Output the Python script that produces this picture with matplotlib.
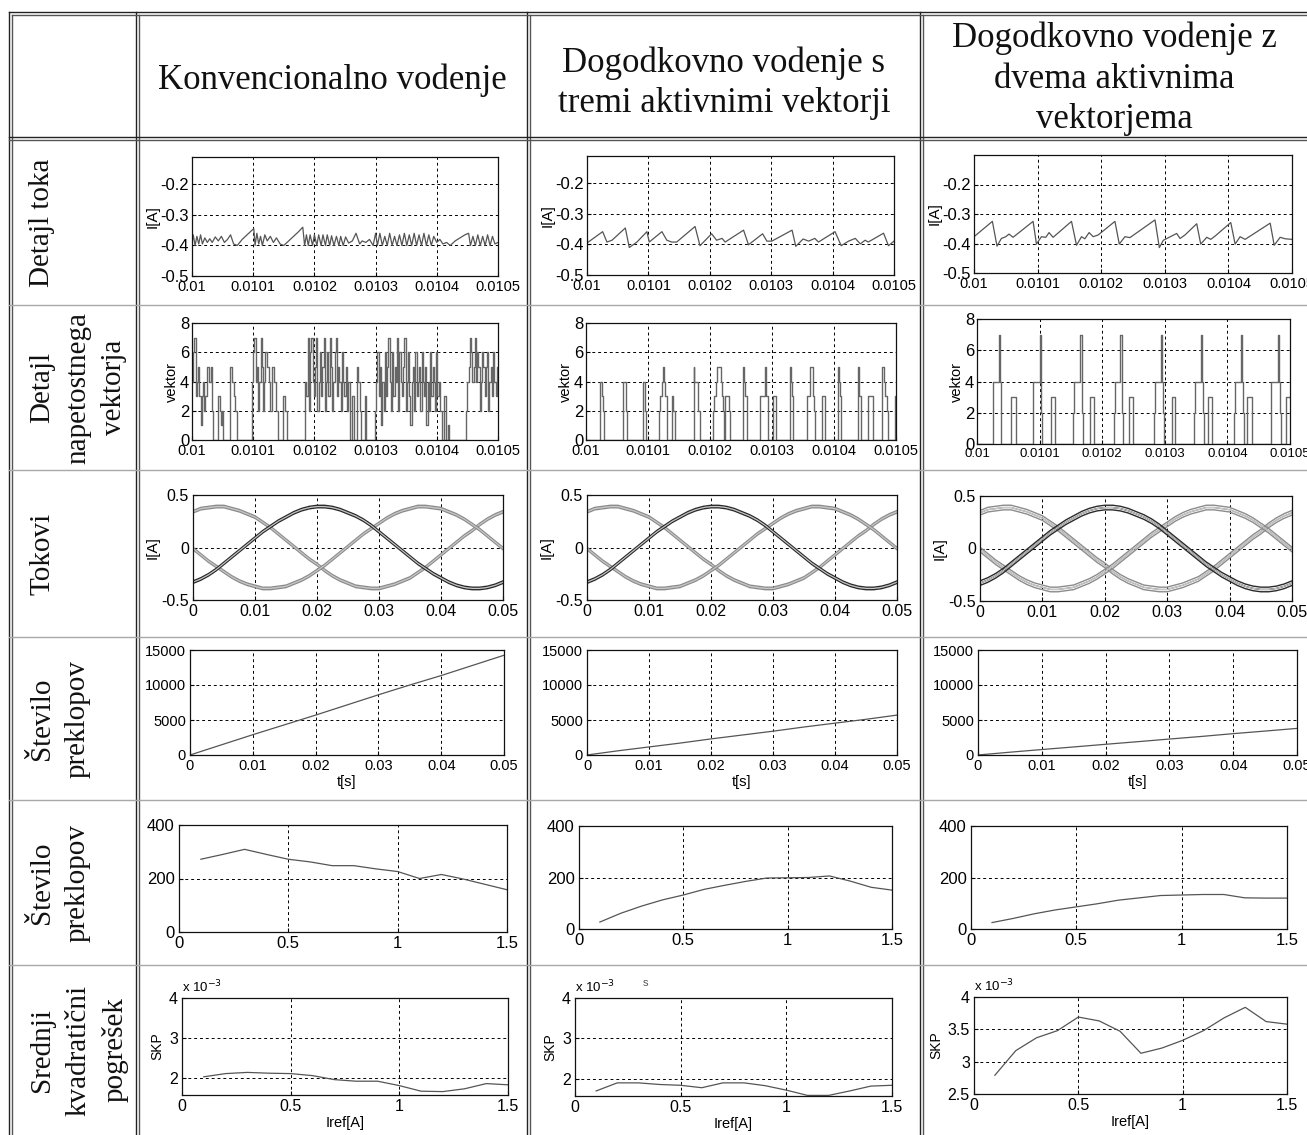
import matplotlib
matplotlib.use('Agg')
import matplotlib.pyplot as plt
import numpy as np

W, H = 1307, 1135

col_titles = ['Konvencionalno vodenje',
              'Dogodkovno vodenje s\ntremi aktivnimi vektorji',
              'Dogodkovno vodenje z\ndvema aktivnima\nvektorjema']
row_titles = ['Detajl toka', 'Detajl\nnapetostnega\nvektorja', 'Tokovi',
              'Število\npreklopov', 'Število\npreklopov',
              'Srednji\nkvadratični\npogrešek']

# --- detajl toka: (time in us after 0.01 s, current in A)
det1 = [(0, -0.395), (2, -0.365), (5, -0.40), (8, -0.37), (11, -0.395), (14, -0.365),
        (17, -0.395), (21, -0.375), (25, -0.39), (29, -0.378), (33, -0.39), (38, -0.372),
        (43, -0.385), (48, -0.37), (53, -0.39), (58, -0.38), (63, -0.365), (68, -0.395),
        (74, -0.40), (82, -0.38), (90, -0.365), (98, -0.35), (101, -0.345), (103, -0.40),
        (106, -0.36), (109, -0.395), (112, -0.37), (115, -0.40), (119, -0.365), (123, -0.385),
        (128, -0.37), (133, -0.39), (138, -0.375), (144, -0.395), (150, -0.40), (158, -0.385),
        (166, -0.37), (174, -0.355), (181, -0.34), (184, -0.40), (187, -0.365), (190, -0.40),
        (193, -0.365), (197, -0.40), (200, -0.365), (204, -0.40), (207, -0.365), (211, -0.40),
        (214, -0.365), (218, -0.40), (221, -0.365), (225, -0.40), (228, -0.368), (232, -0.40),
        (236, -0.37), (240, -0.40), (243, -0.37), (247, -0.40), (251, -0.372), (256, -0.392),
        (262, -0.385), (268, -0.36), (274, -0.395), (278, -0.385), (284, -0.39), (290, -0.38),
        (296, -0.40), (300, -0.36), (303, -0.40), (307, -0.36), (311, -0.40), (315, -0.37),
        (319, -0.40), (323, -0.36), (327, -0.40), (331, -0.37), (335, -0.40), (339, -0.365),
        (343, -0.40), (347, -0.36), (351, -0.40), (355, -0.365), (359, -0.40), (363, -0.36),
        (367, -0.40), (371, -0.365), (375, -0.40), (379, -0.36), (383, -0.40), (387, -0.365),
        (391, -0.40), (395, -0.37), (400, -0.39), (405, -0.38), (410, -0.395), (416, -0.39),
        (422, -0.40), (430, -0.385), (438, -0.375), (446, -0.365), (452, -0.36), (455, -0.40),
        (459, -0.37), (463, -0.40), (467, -0.365), (471, -0.40), (475, -0.37), (479, -0.40),
        (483, -0.365), (487, -0.40), (491, -0.37), (495, -0.395), (500, -0.39)]
det2 = [(0, -0.395), (25.5, -0.358), (32.5, -0.392), (40.7, -0.386), (62.4, -0.346),
        (68.9, -0.41), (81.3, -0.392), (97.6, -0.358), (101.4, -0.392), (122, -0.358),
        (130, -0.386), (138, -0.392), (146, -0.392), (176, -0.341), (184, -0.404),
        (203, -0.365), (211, -0.386), (220, -0.38), (225, -0.392), (255, -0.353),
        (263, -0.401), (286, -0.365), (293, -0.389), (301, -0.389), (334, -0.353),
        (340, -0.406), (352, -0.382), (361, -0.389), (371, -0.38), (377, -0.392),
        (404, -0.358), (414, -0.404), (426, -0.389), (437, -0.38), (445, -0.398),
        (453, -0.386), (458, -0.392), (483, -0.363), (491, -0.404), (500, -0.389)]
det3 = [(0, -0.377), (28.9, -0.325), (36.2, -0.409), (43, -0.383), (49.9, -0.377),
        (55.1, -0.368), (61.4, -0.379), (92.9, -0.325), (98.2, -0.402), (106, -0.377),
        (112.9, -0.379), (118, -0.363), (124.4, -0.379), (153.3, -0.325), (161.2, -0.406),
        (169, -0.377), (174.3, -0.384), (181, -0.363), (187.4, -0.377), (195.3, -0.371),
        (221.6, -0.325), (228.4, -0.402), (237.3, -0.377), (245.2, -0.380), (284.6, -0.320),
        (291.4, -0.414), (297.7, -0.389), (318.7, -0.366), (324, -0.383), (331.8, -0.371),
        (350.2, -0.333), (356.5, -0.402), (366, -0.379), (372.2, -0.386), (379, -0.375),
        (403.7, -0.329), (410.6, -0.402), (418.4, -0.377), (426.3, -0.386), (465.7, -0.331),
        (472, -0.406), (481.4, -0.379), (489.3, -0.384), (500, -0.386)]

# --- detajl napetostnega vektorja: (time in us after 0.01 s, vector number)
vec1 = [(0, 4), (2, 6), (4, 7), (6, 3), (8, 4), (10, 5), (12, 3), (14, 1), (16, 3), (18, 4),
        (20, 2), (22, 3), (25, 5), (28, 4), (31, 5), (33, 2), (35, 0), (42, 3), (45, 2),
        (47, 1), (49, 2), (50, 0), (62, 5), (65, 4), (68, 3), (70, 2), (73, 0), (98, 4),
        (100, 6), (102, 7), (104, 4), (106, 5), (108, 2), (110, 4), (112, 7), (114, 5),
        (116, 2), (118, 4), (120, 6), (122, 5), (125, 4), (128, 2), (131, 5), (134, 4),
        (137, 2), (141, 0), (149, 3), (152, 2), (155, 0), (185, 4), (187, 3), (189, 7),
        (191, 2), (193, 6), (195, 7), (197, 4), (199, 3), (201, 5), (203, 7), (205, 2),
        (207, 4), (209, 6), (211, 3), (213, 5), (215, 7), (217, 2), (219, 4), (221, 6),
        (223, 3), (225, 7), (227, 5), (229, 2), (231, 4), (233, 6), (235, 7), (237, 3),
        (239, 5), (241, 4), (243, 2), (245, 6), (247, 4), (249, 3), (251, 5), (253, 2),
        (255, 4), (258, 0), (262, 3), (265, 0), (270, 5), (272, 4), (274, 2), (276, 0),
        (282, 3), (285, 0), (299, 2), (301, 4), (303, 6), (305, 3), (307, 5), (309, 1),
        (311, 4), (313, 2), (315, 6), (317, 3), (319, 5), (321, 7), (323, 4), (325, 2),
        (327, 6), (329, 3), (331, 5), (333, 4), (335, 7), (337, 2), (339, 6), (341, 4),
        (343, 3), (345, 5), (347, 7), (349, 2), (351, 4), (353, 6), (355, 3), (357, 1),
        (359, 4), (361, 5), (363, 2), (365, 6), (367, 3), (369, 4), (371, 5), (373, 2),
        (375, 6), (377, 4), (379, 3), (381, 5), (383, 1), (385, 4), (387, 2), (389, 6),
        (391, 3), (393, 5), (395, 4), (397, 2), (399, 6), (401, 3), (403, 4), (405, 2),
        (408, 0), (412, 3), (415, 0), (418, 1), (420, 0), (448, 2), (450, 4), (452, 5),
        (454, 7), (456, 6), (458, 4), (460, 5), (462, 7), (464, 4), (466, 6), (468, 5),
        (470, 2), (472, 4), (474, 6), (476, 5), (478, 3), (480, 5), (482, 6), (484, 2),
        (486, 4), (488, 5), (490, 3), (492, 6), (494, 4), (496, 3), (498, 5), (500, 5)]
vec2 = [(0, 0), (22, 2), (23, 4), (25, 3), (27, 2), (29, 0), (60, 4), (64, 2), (66, 0),
        (92, 4), (95, 2), (96, 0), (118, 2), (120, 3), (122, 4), (124, 5), (126, 4),
        (128, 3), (130, 2), (131, 0), (138, 3), (141, 2), (143, 0), (174, 5), (175, 4),
        (181, 2), (184, 0), (205, 2), (207, 3), (209, 4), (211, 5), (217, 4), (219, 3),
        (221, 2), (222, 0), (224, 3), (231, 2), (232, 0), (253, 5), (255, 4), (257, 3),
        (259, 0), (281, 3), (288, 5), (291, 3), (293, 2), (294, 0), (302, 3), (306, 2),
        (307, 0), (329, 5), (331, 4), (333, 3), (334, 0), (356, 3), (362, 5), (366, 3),
        (368, 2), (369, 0), (381, 3), (386, 0), (406, 5), (408, 4), (410, 3), (411, 0),
        (438, 5), (441, 3), (444, 0), (455, 3), (463, 0), (478, 5), (481, 4), (483, 3),
        (485, 2), (487, 0), (498, 3), (500, 3)]
vec3 = [(0, 0), (25, 2), (26, 4), (35, 7), (37, 4), (38, 2), (39, 0), (55, 3), (62, 0),
        (89, 2), (90, 4), (100, 7), (102, 4), (103, 2), (104, 0), (118, 3), (124, 0),
        (154, 2), (155, 4), (165, 7), (167, 4), (168, 2), (169, 0), (181, 3), (187, 0),
        (219, 2), (220, 4), (229, 7), (231, 4), (232, 2), (233, 0), (243, 3), (249, 0),
        (283, 2), (284, 4), (294, 7), (296, 4), (297, 2), (298, 0), (311, 3), (316, 0),
        (347, 2), (348, 4), (358, 7), (360, 4), (361, 2), (362, 0), (369, 3), (376, 0),
        (411, 2), (412, 4), (422, 7), (424, 4), (425, 2), (426, 0), (432, 3), (439, 0),
        (469, 2), (470, 4), (481, 7), (483, 4), (484, 2), (485, 0), (494, 3), (500, 3)]

# --- tokovi: three phase currents (time in ms)
tok_ms = [0, 1.25, 2.5, 3.75, 5, 6.25, 7.5, 8.75, 10, 11.25, 12.5, 13.75, 15, 16.25, 17.5,
          18.75, 20, 21.25, 22.5, 23.75, 25, 26.25, 27.5, 28.75, 30, 31.25, 32.5, 33.75,
          35, 36.25, 37.5, 38.75, 40, 41.25, 42.5, 43.75, 45, 46.25, 47.5, 48.75, 50]
tok_a = [0.34, 0.37, 0.38, 0.39, 0.39, 0.37, 0.35, 0.32, 0.29, 0.24, 0.19, 0.13, 0.07, 0.01,
         -0.05, -0.11, -0.16, -0.22, -0.27, -0.31, -0.34, -0.37, -0.38, -0.39, -0.39, -0.37,
         -0.35, -0.32, -0.29, -0.24, -0.19, -0.13, -0.07, -0.01, 0.05, 0.11, 0.16, 0.22,
         0.27, 0.31, 0.34]
tok_b = [-0.33, -0.30, -0.26, -0.21, -0.15, -0.09, -0.03, 0.03, 0.09, 0.15, 0.20, 0.25,
         0.29, 0.33, 0.36, 0.38, 0.39, 0.39, 0.38, 0.36, 0.33, 0.30, 0.26, 0.21, 0.15, 0.09,
         0.03, -0.03, -0.09, -0.15, -0.20, -0.25, -0.29, -0.33, -0.36, -0.38, -0.39, -0.39,
         -0.38, -0.36, -0.33]
tok_c = [-0.01, -0.07, -0.13, -0.18, -0.23, -0.28, -0.32, -0.35, -0.37, -0.39, -0.39, -0.38,
         -0.37, -0.34, -0.31, -0.27, -0.22, -0.17, -0.11, -0.05, 0.01, 0.07, 0.13, 0.18,
         0.23, 0.28, 0.32, 0.35, 0.37, 0.39, 0.39, 0.38, 0.37, 0.34, 0.31, 0.27, 0.22, 0.17,
         0.11, 0.05, -0.01]
tok_ripple = [0.012, 0.012, 0.022]

# --- stevilo preklopov vs time
sw_t = [0, 0.005, 0.01, 0.015, 0.02, 0.025, 0.03, 0.035, 0.04, 0.045, 0.05]
sw1 = [0, 1450, 2900, 4300, 5700, 7150, 8600, 10000, 11350, 12800, 14250]
sw2 = [0, 600, 1150, 1700, 2300, 2850, 3400, 4000, 4550, 5100, 5700]
sw3 = [0, 400, 780, 1150, 1530, 1900, 2280, 2650, 3050, 3420, 3800]

# --- stevilo preklopov and SKP vs Iref
iref = [0.1, 0.2, 0.3, 0.4, 0.5, 0.6, 0.7, 0.8, 0.9, 1.0, 1.1, 1.2, 1.3, 1.4, 1.5]
nsw1 = [272, 290, 309, 290, 272, 262, 248, 248, 236, 226, 200, 215, 198, 178, 158]
nsw2 = [27, 61, 89, 113, 132, 154, 170, 185, 198, 199, 200, 206, 186, 162, 151]
nsw3 = [25, 41, 59, 74, 86, 98, 112, 121, 130, 132, 134, 134, 121, 120, 120]
# SKP in units of 1e-3
skp1 = [2.03, 2.11, 2.14, 2.12, 2.11, 2.06, 1.96, 1.92, 1.92, 1.81, 1.67, 1.66, 1.73, 1.86, 1.83]
skp2 = [1.70, 1.90, 1.90, 1.86, 1.84, 1.78, 1.90, 1.90, 1.83, 1.72, 1.59, 1.59, 1.70, 1.82, 1.84]
skp3 = [2.79, 3.17, 3.37, 3.48, 3.69, 3.63, 3.47, 3.13, 3.21, 3.33, 3.48, 3.68, 3.84, 3.62, 3.58]

plt.rcParams['font.family'] = ['Liberation Sans', 'DejaVu Sans']

fig = plt.figure(figsize=(W / 100, H / 100), dpi=100)

# background table
bg = fig.add_axes([0, 0, 1, 1], zorder=-1)
bg.set_xlim(0, W)
bg.set_ylim(H, 0)
bg.axis('off')
col_x = [9, 136, 527, 920]
row_y = [12, 140, 305, 470, 637, 800, 965]
for x in col_x:
    bg.plot([x, x], [12, H], color='#222222', lw=1.0)
    bg.plot([x + 3, x + 3], [15, H], color='#555555', lw=1.0)
bg.plot([9, W], [12, 12], color='#222222', lw=1.0)
bg.plot([12, W], [15, 15], color='#555555', lw=1.0)
bg.plot([9, W], [137, 137], color='#222222', lw=1.0)
bg.plot([9, W], [140, 140], color='#555555', lw=1.0)
for y in row_y[2:]:
    bg.plot([9, W], [y, y], color='#a8a8a8', lw=1.0)

serif = ['Liberation Serif', 'DejaVu Serif']
hx = [332, 724, 1114]
hy = [80, 83, 79]
for x, y, s in zip(hx, hy, col_titles):
    bg.text(x, y, s, ha='center', va='center', fontsize=25, family=serif,
            linespacing=1.3, color='#111111')
for i, s in enumerate(row_titles):
    yc = (row_y[i + 1] + (row_y[i + 2] if i + 2 < len(row_y) else H)) / 2
    bg.text(29, yc, s, ha='left', va='center', rotation=90, fontsize=21, family=serif,
            multialignment='center', linespacing=1.5, color='#111111')


def px_axes(l, t, r, b):
    return fig.add_axes([l / W, 1 - b / H, (r - l) / W, (b - t) / H])


def style(ax, fs):
    ax.tick_params(direction='in', length=3, labelsize=fs, pad=3, width=0.8)
    ax.grid(True, color='k', linestyle=(0, (3, 3)), lw=0.7)
    for sp in ax.spines.values():
        sp.set_linewidth(0.9)
        sp.set_color('#111111')


line_c = '#555555'
det_ticks = [0.01, 0.0101, 0.0102, 0.0103, 0.0104, 0.0105]
det_labels = ['0.01', '0.0101', '0.0102', '0.0103', '0.0104', '0.0105']

# row 1: detajl toka
det_rects = [(192, 157, 498, 276), (587, 156, 894, 275), (974, 155, 1292, 273)]
det_top = [-0.11, -0.11, -0.10]
for rect, data, top in zip(det_rects, [det1, det2, det3], det_top):
    ax = px_axes(*rect)
    d = np.array(data)
    ax.plot(0.01 + d[:, 0] * 1e-6, d[:, 1], color=line_c, lw=0.9)
    ax.set_xlim(0.01, 0.0105)
    ax.set_ylim(-0.5, top)
    ax.set_xticks(det_ticks)
    ax.set_xticklabels(det_labels)
    ax.set_yticks([-0.5, -0.4, -0.3, -0.2])
    ax.set_yticklabels(['-0.5', '-0.4', '-0.3', '-0.2'])
    ax.set_ylabel('I[A]', fontsize=11, labelpad=1)
    style(ax, 10.5)
    ax.tick_params(axis='y', labelsize=12, pad=2)

# row 2: detajl napetostnega vektorja
vec_rects = [(192, 323, 498, 440), (586, 323, 896, 440), (977, 319, 1290, 444)]
for rect, data in zip(vec_rects, [vec1, vec2, vec3]):
    ax = px_axes(*rect)
    d = np.array(data, dtype=float)
    ax.plot(0.01 + d[:, 0] * 1e-6, d[:, 1], color='#666666', lw=1.0, drawstyle='steps-post')
    ax.set_xlim(0.01, 0.0105)
    ax.set_ylim(0, 8)
    ax.set_xticks(det_ticks)
    ax.set_xticklabels(det_labels)
    ax.set_yticks([0, 2, 4, 6, 8])
    ax.set_ylabel('vektor', fontsize=10.5, labelpad=1)
    style(ax, 10.5 if rect[0] < 900 else 9.5)
    ax.tick_params(axis='y', labelsize=12, pad=2)

# row 3: tokovi
tok_rects = [(193, 495, 503, 600), (587, 495, 897, 600), (980, 496, 1292, 601)]
t_s = np.array(tok_ms) * 1e-3
for rect, rip in zip(tok_rects, tok_ripple):
    ax = px_axes(*rect)
    for ph, col in [(tok_a, '#8c8c8c'), (tok_c, '#8c8c8c'), (tok_b, '#2a2a2a')]:
        v = np.array(ph)
        for off in (-rip, 0.0, rip):
            ax.plot(t_s, v + off, color=col, lw=1.0)
        ax.plot(t_s, v, color='#c8c8c8', lw=0.8)
    ax.set_xlim(0, 0.05)
    ax.set_ylim(-0.5, 0.5)
    ax.set_xticks([0, 0.01, 0.02, 0.03, 0.04, 0.05])
    ax.set_xticklabels(['0', '0.01', '0.02', '0.03', '0.04', '0.05'])
    ax.set_yticks([-0.5, 0, 0.5])
    ax.set_yticklabels(['-0.5', '0', '0.5'])
    ax.set_ylabel('I[A]', fontsize=11, labelpad=1)
    style(ax, 11.5)

# row 4: stevilo preklopov vs t
sw_rects = [(190, 650, 504, 755), (587, 650, 897, 755), (978, 650, 1297, 755)]
for rect, sw in zip(sw_rects, [sw1, sw2, sw3]):
    ax = px_axes(*rect)
    ax.plot(sw_t, sw, color=line_c, lw=0.9)
    ax.set_xlim(0, 0.05)
    ax.set_ylim(0, 15000)
    ax.set_xticks([0, 0.01, 0.02, 0.03, 0.04, 0.05])
    ax.set_xticklabels(['0', '0.01', '0.02', '0.03', '0.04', '0.05'])
    ax.set_yticks([0, 5000, 10000, 15000])
    ax.set_xlabel('t[s]', fontsize=10.5, labelpad=1)
    style(ax, 10.5)

# row 5: stevilo preklopov vs Iref
n_rects = [(179, 825, 507, 932), (579, 826, 892, 929), (971, 826, 1287, 929)]
for rect, n in zip(n_rects, [nsw1, nsw2, nsw3]):
    ax = px_axes(*rect)
    ax.plot(iref, n, color=line_c, lw=0.9)
    ax.set_xlim(0, 1.5)
    ax.set_ylim(0, 400)
    ax.set_xticks([0, 0.5, 1, 1.5])
    ax.set_xticklabels(['0', '0.5', '1', '1.5'])
    ax.set_yticks([0, 200, 400])
    style(ax, 12)

# row 6: srednji kvadraticni pogresek
skp_rects = [(182, 998, 508, 1095), (575, 998, 892, 1096), (974, 997, 1287, 1094)]
skp_lims = [(1.575, 4), (1.575, 4), (2.5, 4)]
skp_yt = [[2, 3, 4], [2, 3, 4], [2.5, 3, 3.5, 4]]
for rect, s, lim, yt in zip(skp_rects, [skp1, skp2, skp3], skp_lims, skp_yt):
    ax = px_axes(*rect)
    ax.plot(iref, s, color=line_c, lw=0.9)
    ax.set_xlim(0, 1.5)
    ax.set_ylim(*lim)
    ax.set_xticks([0, 0.5, 1, 1.5])
    ax.set_xticklabels(['0', '0.5', '1', '1.5'])
    ax.set_yticks(yt)
    ax.set_yticklabels([('%g' % v) for v in yt])
    ax.set_ylabel('SKP', fontsize=10, labelpad=3)
    ax.set_xlabel('Iref[A]', fontsize=10.5, labelpad=1)
    ax.text(0.0, 1.03, r'x 10$^{-3}$', transform=ax.transAxes, fontsize=9.5,
            ha='left', va='bottom')
    style(ax, 11.5)

bg.text(645, 983, 's', fontsize=8, color='#555555', ha='center', va='center')

fig.savefig('out.png', dpi=100)
